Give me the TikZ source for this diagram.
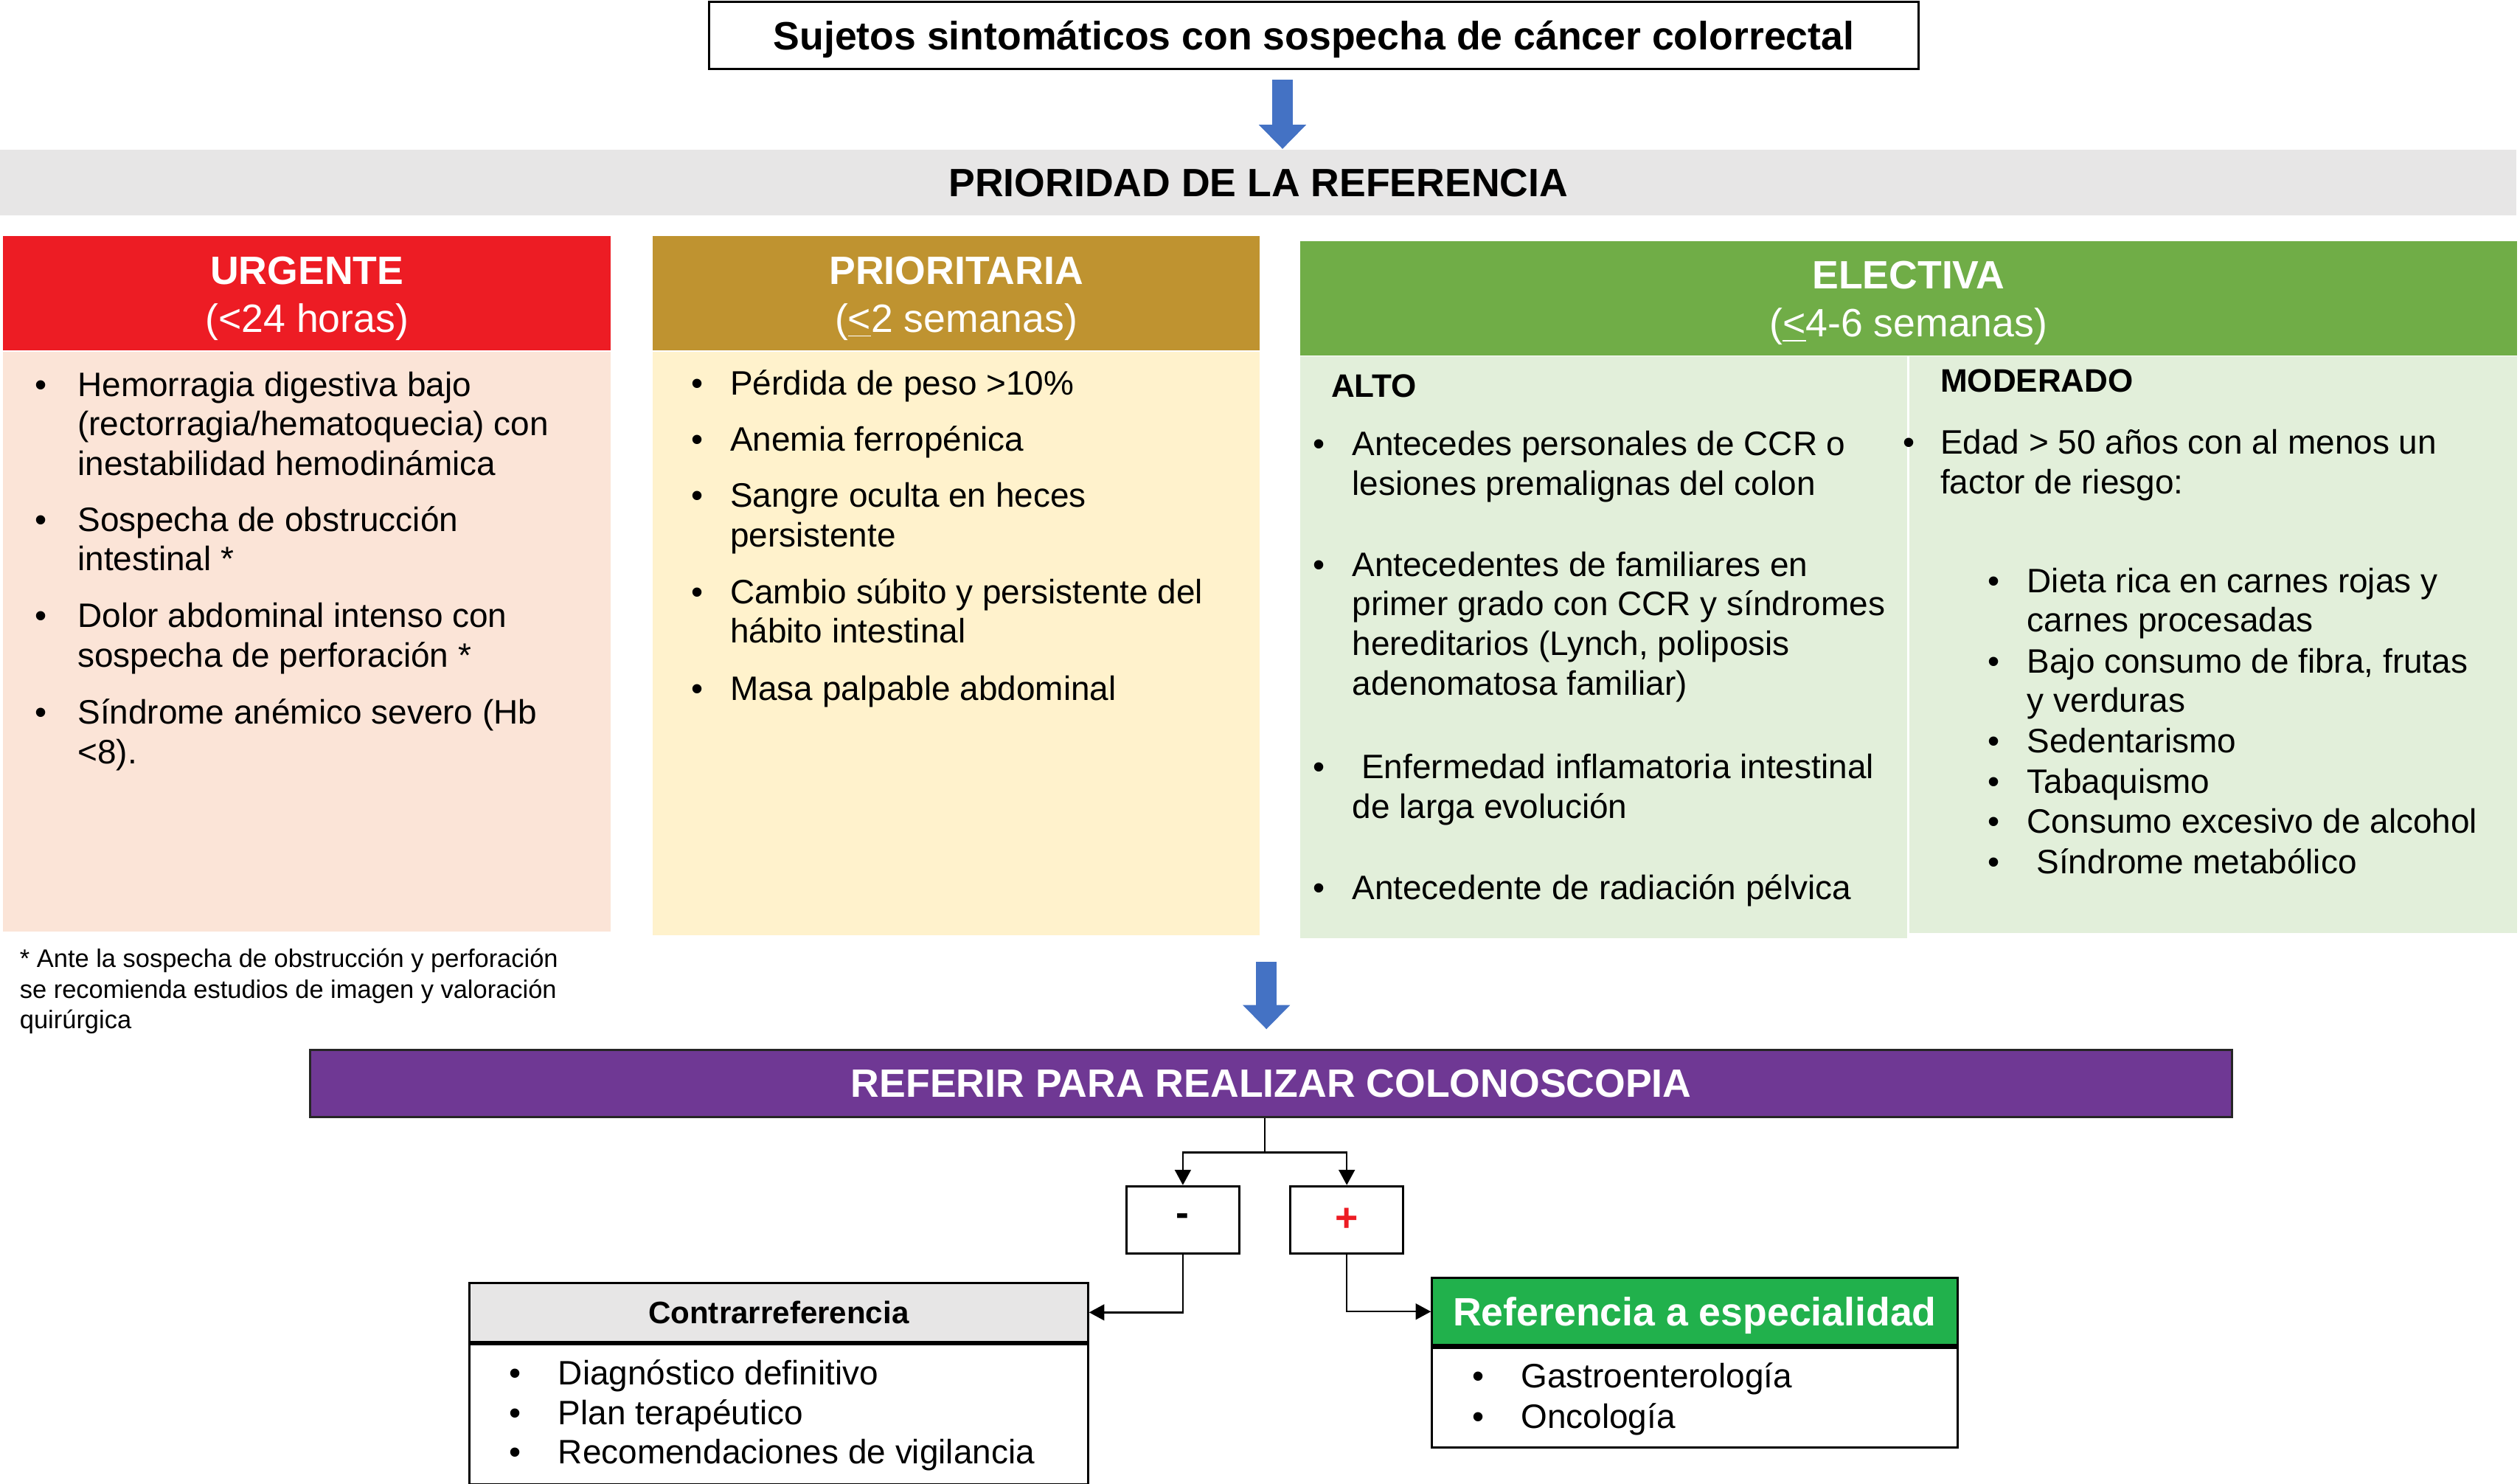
\documentclass[tikz,border=0pt]{standalone}
\usepackage{fontspec}
\setmainfont{Liberation Sans}
\usetikzlibrary{arrows.meta}

\definecolor{urgred}{HTML}{ED1C24}
\definecolor{urgbody}{HTML}{FBE4D7}
\definecolor{prigold}{HTML}{BF9330}
\definecolor{pribody}{HTML}{FFF2CC}
\definecolor{elegreen}{HTML}{70AD47}
\definecolor{elebody}{HTML}{E2EFDA}
\definecolor{bandgray}{HTML}{E7E6E6}
\definecolor{colpurple}{HTML}{6F3894}
\definecolor{refgreen}{HTML}{21B14C}
\definecolor{arrblue}{HTML}{4472C4}

\newlength\px
\setlength\px{0.02cm}
\newcommand{\bul}[1][17]{\makebox[0pt][r]{\textbullet\hspace{#1\px}}}
\newcommand{\lns}[1]{\begin{tabular}[t]{@{}l@{}}#1\end{tabular}}
\newcommand{\hstrut}{\rule{0pt}{13.4pt}}

\begin{document}
\begin{tikzpicture}[x=0.02cm,y=-0.02cm,
    box/.style={draw=black,line width=0.8pt,fill=white,inner sep=0pt},
    hdr/.style={inner sep=0pt,text=white,align=center,font=\fontsize{14}{17}\selectfont},
    body/.style={inner sep=0pt,anchor=north},
    item/.style={anchor=base west,inner sep=0pt,font=\fontsize{12}{14}\selectfont},
    lbl/.style={anchor=base west,inner sep=0pt,font=\fontsize{11.5}{14}\selectfont\bfseries},
    bluearr/.style={draw=arrblue,line width=0.26cm,-{Triangle[width=0.57cm,length=0.3cm]}},
    conn/.style={draw=black,line width=0.6pt,-{Triangle[width=0.2cm,length=0.19cm]}}]
  \useasboundingbox (0,0) rectangle (1568,923);

  \node[box,text depth=0pt,minimum width=15.06cm,minimum height=0.84cm,font=\fontsize{14}{17}\selectfont\bfseries] (subj) at (817.5,22) {Sujetos sintomáticos con sospecha de cáncer colorrectal};
  \node[fill=bandgray,inner sep=0pt,text depth=0pt,minimum width=31.32cm,minimum height=0.82cm,font=\fontsize{14}{17}\selectfont\bfseries] (prio) at (783,113.5) {PRIORIDAD DE LA REFERENCIA};
  \coordinate (a1) at (798,0);
  \draw[bluearr,shorten <=0.12cm] (subj.south -| a1) -- (prio.north -| a1);

  \node[hdr,fill=urgred,minimum width=7.56cm,minimum height=1.42cm] (urg) at (191,182.5) {\hstrut\textbf{URGENTE}\\(<24 horas)};
  \node[body,fill=urgbody,minimum width=7.56cm,minimum height=7.22cm] (urgb) at (urg.south) {};
  \node[hdr,fill=prigold,minimum width=7.56cm,minimum height=1.42cm] (pri) at (595,182.5) {\hstrut\textbf{PRIORITARIA}\\(\underline{<}2 semanas)};
  \node[body,fill=pribody,minimum width=7.56cm,minimum height=7.26cm] (prib) at (pri.south) {};
  \node[hdr,fill=elegreen,minimum width=15.14cm,minimum height=1.42cm] (ele) at (1187.5,185.5) {\hstrut\textbf{ELECTIVA}\\(\underline{<}4-6 semanas)};
  \node[body,fill=elebody,anchor=north west,minimum width=7.56cm,minimum height=7.24cm] (alto) at (ele.south west) {};
  \node[body,fill=elebody,anchor=north east,minimum width=7.58cm,minimum height=7.18cm] (mod) at (ele.south east) {};
  \draw[white,line width=0.6pt] (alto.north east) -- (alto.south east);

  \node[item] (u1) at (48,246.5) {\bul[19]\lns{Hemorragia digestiva bajo\\(rectorragia/hematoquecia) con\\inestabilidad hemodinámica}};
  \node[item] (u2) at (48,330.5) {\bul[19]\lns{Sospecha de obstrucción\\intestinal *}};
  \node[item] (u3) at (48,390.5) {\bul[19]\lns{Dolor abdominal intenso con\\sospecha de perforación *}};
  \node[item] (u4) at (48,450.5) {\bul[19]\lns{Síndrome anémico severo (Hb\\<8).}};

  \node[item] (p1) at (454,245.5) {\bul Pérdida de peso >10\%};
  \node[item] (p2) at (454,280.5) {\bul Anemia ferropénica};
  \node[item] (p3) at (454,315.5) {\bul\lns{Sangre oculta en heces\\persistente}};
  \node[item] (p4) at (454,375.5) {\bul\lns{Cambio súbito y persistente del\\hábito intestinal}};
  \node[item] (p5) at (454,435.5) {\bul Masa palpable abdominal};

  \node[lbl] (altot) at (828,247) {ALTO};
  \node[item] (a1t) at (841,283.5) {\bul\lns{Antecedes personales de CCR o\\lesiones premalignas del colon}};
  \node[item] (a2t) at (841,358.5) {\bul\lns{Antecedentes de familiares en\\primer grado con CCR y síndromes\\hereditarios (Lynch, poliposis\\adenomatosa familiar)}};
  \node[item] (a3t) at (841,484.5) {\bul\lns{\ Enfermedad inflamatoria intestinal\\de larga evolución}};
  \node[item] (a4t) at (841,559.5) {\bul Antecedente de radiación pélvica};

  \node[lbl] (modt) at (1207,244) {MODERADO};
  \node[item] (m1) at (1207,282.5) {\bul[16]\lns{Edad > 50 años con al menos un\\factor de riesgo:}};
  \node[item] (s1) at (1261,368.5) {\bul\lns{Dieta rica en carnes rojas y\\carnes procesadas}};
  \node[item] (s2) at (1261,418.5) {\bul\lns{Bajo consumo de fibra, frutas\\y verduras}};
  \node[item] (s3) at (1261,468.5) {\bul Sedentarismo};
  \node[item] (s4) at (1261,493.5) {\bul Tabaquismo};
  \node[item] (s5) at (1261,518.5) {\bul Consumo excesivo de alcohol};
  \node[item] (s6) at (1261,543.5) {\bul\ Síndrome metabólico};

  \node[item,font=\fontsize{9}{10.8}\selectfont] (nota) at (12,602) {\lns{* Ante la sospecha de obstrucción y perforación\\se recomienda estudios de imagen y valoración\\quirúrgica}};

  \node[draw=black!85,line width=0.8pt,fill=colpurple,text=white,inner sep=0pt,text depth=0pt,minimum width=23.92cm,minimum height=0.84cm,font=\fontsize{14}{17}\selectfont\bfseries] (colo) at (791,674) {REFERIR PARA REALIZAR COLONOSCOPIA};
  \coordinate (a2) at (788,0);
  \draw[bluearr,shorten <=0.33cm,shorten >=0.24cm] (prib.south -| a2) -- (colo.north -| a2);

  \node[box,minimum width=1.4cm,minimum height=0.84cm,font=\fontsize{14}{17}\selectfont\bfseries] (neg) at (736,759) {-};
  \node[box,minimum width=1.4cm,minimum height=0.84cm,font=\fontsize{14}{17}\selectfont\bfseries,text=urgred] (pos) at (838,759) {+};
  \coordinate (split) at (787,717);
  \draw[line width=0.6pt] (colo.south -| split) -- (split);
  \draw[conn] (split) -| (neg.north);
  \draw[conn] (split) -| (pos.north);

  \node[box,fill=bandgray,text depth=0pt,minimum width=7.7cm,minimum height=0.74cm,font=\fontsize{11}{13}\selectfont\bfseries] (contra) at (484.5,816.5) {Contrarreferencia};
  \node[box,anchor=north,minimum width=7.7cm,minimum height=1.74cm] (contrab) at (contra.south) {};
  \node[item] (c1) at (347,861.5) {\bul[23]Diagnóstico definitivo};
  \node[item] (c2) at (347,886.5) {\bul[23]Plan terapéutico};
  \node[item] (c3) at (347,910.5) {\bul[23]Recomendaciones de vigilancia};

  \node[box,fill=refgreen,text=white,text depth=0pt,minimum width=6.54cm,minimum height=0.84cm,font=\fontsize{14}{17}\selectfont\bfseries] (espec) at (1054.5,816) {Referencia a especialidad};
  \node[box,anchor=north,minimum width=6.54cm,minimum height=1.24cm] (especb) at (espec.south) {};
  \node[item] (e1) at (946,863.5) {\bul[23]Gastroenterología};
  \node[item] (e2) at (946,888.5) {\bul[23]Oncología};

  \draw[conn] (neg.south) |- (contra.east);
  \draw[conn] (pos.south) |- (espec.west);
\end{tikzpicture}
\end{document}
